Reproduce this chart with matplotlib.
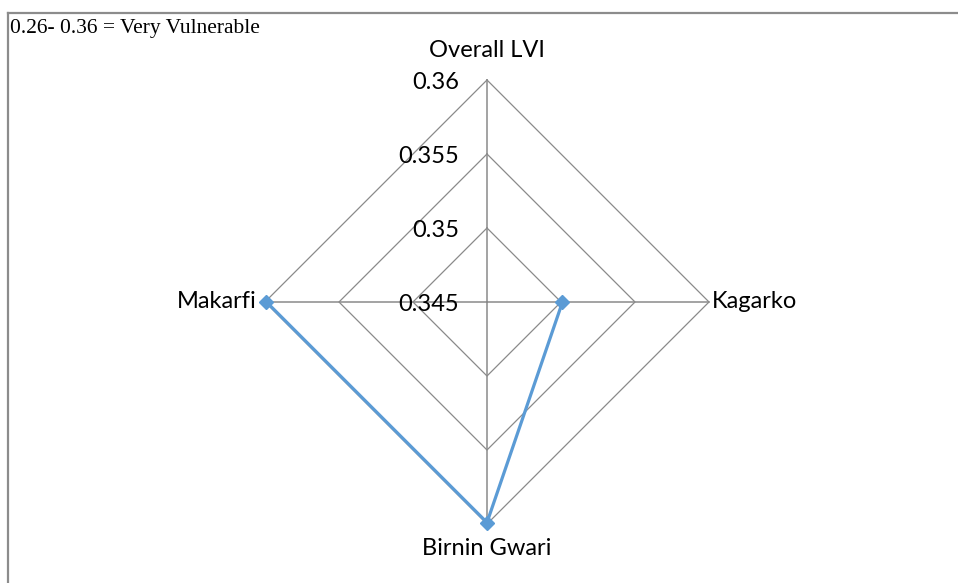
import numpy as np
import matplotlib.pyplot as plt
from matplotlib.lines import Line2D

categories = ["Overall LVI", "Kagarko", "Birnin Gwari", "Makarfi"]
lvi_values = [np.nan, 0.3501, 0.3599, 0.3599]
ring_levels = [0.345, 0.35, 0.355, 0.36]
ring_labels = ["0.345", "0.35", "0.355", "0.36"]
note_text = "0.26- 0.36 = Very Vulnerable"

GRID = "#8a8a8a"
SERIES = "#5b9bd5"
SANS = ["Lato", "DejaVu Sans"]

fig = plt.figure(figsize=(9.58, 5.83), dpi=100)
ax = fig.add_axes([0.2766, 0.1012, 0.4635, 0.7616], projection="polar")
ax.set_theta_zero_location("N")
ax.set_theta_direction(-1)
ax.set_ylim(ring_levels[0], ring_levels[-1])
ax.grid(False)
ax.spines["polar"].set_visible(False)
ax.set_xticks([])
ax.set_yticks([])
ax.patch.set_alpha(0)

theta = np.linspace(0, 2 * np.pi, len(categories), endpoint=False)
loop = np.append(theta, theta[0])

# diamond rings + spokes
for level in ring_levels[1:]:
    ax.plot(loop, [level] * len(loop), color=GRID, lw=0.9, clip_on=False)
for t in theta:
    ax.plot([t, t], [ring_levels[0], ring_levels[-1]], color=GRID, lw=1.1,
            clip_on=False)

ax.plot(theta, lvi_values, color=SERIES, lw=2.3, marker="D", markersize=7,
        clip_on=False, zorder=5)

# radial value labels, left of the vertical spoke
for level, lab in zip(ring_levels, ring_labels):
    ax.annotate(lab, xy=(0, level), xytext=(-20, -2), textcoords="offset points",
                ha="right", va="center", fontsize=17, family=SANS)

# category labels
offsets = [((0, 14), "center", "bottom"), ((2, 0), "left", "center"),
           ((0, -10), "center", "top"), ((-6, 0), "right", "center")]
for t, name, (off, ha, va) in zip(theta, categories, offsets):
    ax.annotate(name, xy=(t, ring_levels[-1]), xytext=off,
                textcoords="offset points", ha=ha, va=va, fontsize=17,
                family=SANS)

# frame lines of the original picture box
fig.add_artist(Line2D([0.0085, 1.0], [0.977, 0.977], color="#8c8c8c", lw=1.6))
fig.add_artist(Line2D([0.0085, 0.0085], [0.0, 0.977], color="#8c8c8c", lw=1.6))

fig.text(0.0105, 0.968, note_text, ha="left", va="top", fontsize=15.5,
         family="Liberation Serif")

fig.savefig("out.png", dpi=100)
